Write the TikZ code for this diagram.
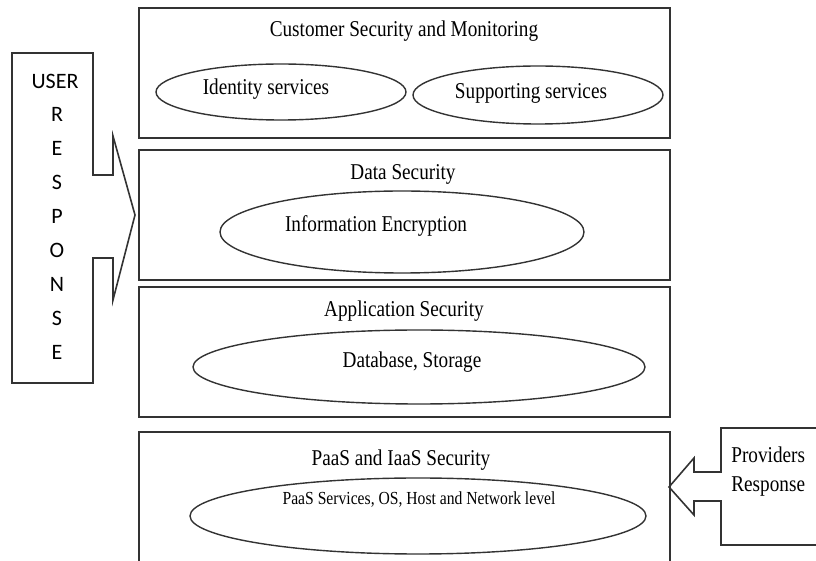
\documentclass[tikz,border=0pt]{standalone}
\usepackage{fontspec}
\setmainfont[FakeStretch=0.85]{Liberation Serif}
\newfontfamily\carlito{Carlito}
\usetikzlibrary{shapes.geometric}

\begin{document}
\begin{tikzpicture}[x=0.5pt,y=-0.5pt,
  layer/.style={draw=black!80,line width=0.8pt},
  oval/.style={ellipse,draw=black!80,line width=0.7pt,inner sep=0pt},
  label/.style={font=\fontsize{11.3}{13}\selectfont,inner sep=0pt},
  small/.style={font=\fontsize{9.2}{11}\selectfont,inner sep=0pt},
  letter/.style={font=\carlito\fontsize{11}{13}\selectfont,inner sep=0pt}]
\useasboundingbox (0,0) rectangle (816,561);
% the four layers
\draw[layer] (139,8) rectangle (670,138);
\draw[layer] (139,150) rectangle (670,280);
\draw[layer] (139,287) rectangle (670,417);
\draw[layer] (139,570) -- (139,432) -- (670,432) -- (670,570);
% customer security
\node[label] (cust) at (404,31) {Customer Security and Monitoring};
\node[oval,minimum width=125pt,minimum height=28pt] (idov) at (281,92) {};
\node[label] (id) at (266,89) {Identity services};
\node[oval,minimum width=125pt,minimum height=29pt] (supov) at (538,95) {};
\node[label] (sup) at (531,93) {Supporting services};
% data security
\node[label] (data) at (403,174) {Data Security};
\node[oval,minimum width=182pt,minimum height=41pt] (encov) at (402,232) {};
\node[label] (enc) at (376,226) {Information Encryption};
% application security
\node[label] (app) at (404,311) {Application Security};
\node[oval,minimum width=226pt,minimum height=37pt] (dbov) at (419,367) {};
\node[label] (db) at (412,362) {Database, Storage};
% paas and iaas security
\node[label] (paas) at (401,460) {PaaS and IaaS Security};
\node[oval,minimum width=228pt,minimum height=38pt] (hostov) at (418,516) {};
\node[small] (host) at (419,500) {PaaS Services, OS, Host and Network level};
% user response arrow
\draw[layer] (12,53) -- (93,53) -- (93,175) -- (113,175) -- (113,136) -- (135,215)
  -- (113,300) -- (113,258) -- (93,258) -- (93,383) -- (12,383) -- cycle;
\node[letter] (user) at (55,81) {USER};
\foreach \c [count=\i] in {R,E,S,P,O,N,S,E}
  \node[letter] (resp\i) at (57,{81+\i*33.9}) {\c};
% providers response arrow
\draw[layer] (830,428) -- (721,428) -- (721,472) -- (694,472) -- (694,458) -- (669,487)
  -- (694,515) -- (694,501) -- (721,501) -- (721,545) -- (830,545);
\node[label,anchor=west] (prov) at (731,455) {Providers};
\node[label,anchor=west] (provr) at (731,487) {Response};
\end{tikzpicture}
\end{document}
